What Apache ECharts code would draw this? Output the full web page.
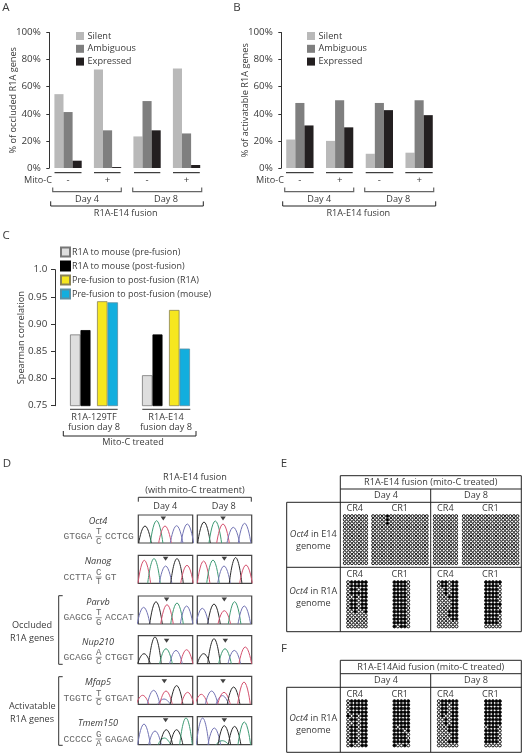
<!DOCTYPE html>
<html><head><meta charset="utf-8">
<style>html,body{margin:0;padding:0;background:#fff}#c{width:525px;height:756px}</style>
<script src="https://cdn.jsdelivr.net/npm/echarts@6/dist/echarts.min.js"></script>
</head><body><div id="c"></div>
<script>
// ---------- data ----------
const mitoCategories = ['-', '+', '-', '+'];
const stateNames = ['Silent', 'Ambiguous', 'Expressed'];
const occludedSilent = [54.5, 72.7, 23.3, 73.5];
const occludedAmbiguous = [41.3, 27.8, 49.4, 25.5];
const occludedExpressed = [5.4, 0.7, 27.8, 2.2];
const activatableSilent = [21, 20, 10.5, 11.3];
const activatableAmbiguous = [48, 50, 48, 50];
const activatableExpressed = [31.4, 30, 42.7, 39];
const corrCategories = ['R1A-129TF\nfusion day 8', 'R1A-E14\nfusion day 8'];
const corrNames = ['R1A to mouse (pre-fusion)', 'R1A to mouse (post-fusion)', 'Pre-fusion to post-fusion (R1A)', 'Pre-fusion to post-fusion (mouse)'];
const corrPreMouse = [0.881, 0.806];
const corrPostMouse = [0.889, 0.881];
const corrR1A = [0.942, 0.926];
const corrMouse = [0.940, 0.855];

const geneNames = ['Oct4', 'Nanog', 'Parvb', 'Nup210', 'Mfap5', 'Tmem150'];
const seqLeft = ['GTGGA', 'CCTTA', 'GAGCG', 'GCAGG', 'TGGTC', 'CCCCC'];
const seqTop = ['T', 'C', 'T', 'A', 'T', 'G'];
const seqBottom = ['C', 'T', 'G', 'C', 'C', 'A'];
const seqRight = ['CCTCG', 'GT', 'ACCAT', 'CTGGT', 'GTGAT', 'GAGAG'];
// peaks: base, position along trace, peak height
const oct4Day4 = [['G',6.7,17],['A',18.3,22.3],['T',26.7,17],['C',38.3,17.3],['C',49,19]];
const oct4Day8 = [['G',6.7,21],['A',18,22],['T',25.7,19],['C',36,15.7],['C',47.3,19.7]];
const nanogDay4 = [['T',6,23],['A',15.7,24.7],['C',27.3,17.3],['G',38.7,24.7],['T',48.7,18]];
const nanogDay8 = [['T',6.3,22.3],['A',15.7,23.3],['C',26.7,17.3],['G',38.3,25.7],['T',48.7,18.3]];
const parvbDay4 = [['C',5.3,16.7],['G',17.7,22.3],['T',28.7,19.3],['A',38.7,21],['C',48.3,18]];
const parvbDay8 = [['C',5,15.7],['G',16.7,20],['T',27,13.3],['A',37.3,22.3],['C',47,18]];
const nup210Day4 = [['G',5.7,10],['G',16.7,26.7],['A',27.7,15],['C',37.7,13.3],['T',48.3,14]];
const nup210Day8 = [['G',6.3,10],['G',16.7,25],['A',27.7,15],['C',37,13.3],['T',48,16.7]];
const mfap5Day4 = [['T',4.3,9],['C',15.3,14],['C',25.7,5.3],['T',27.7,13.3],['G',38.3,18.7],['T',49.3,12]];
const mfap5Day8 = [['T',4,10],['C',14.3,13.3],['C',25,8.7],['T',26.7,12],['G',36.3,17.3],['T',46.7,22.3]];
const tmem150Day4 = [['C',5.7,20.7],['C',16.7,13.7],['A',26,6.7],['G',28,15],['G',38.3,15],['A',47.7,26.7]];
const tmem150Day8 = [['C',5.3,26.7],['C',17,16.7],['A',25,4],['G',27,19],['G',37.3,18.3],['A',47,22.7]];
const arrowDay4 = [25, 27.3, 28.3, 28.3, 26, 27.3];
const arrowDay8 = [25.7, 27, 27, 28, 25.7, 27];

// methylation: 1 = methylated (filled), 0 = unmethylated (open)
const e14CR4Day4 = ['0000000','0000000','0000000','0000000','0000000','0000000','0000000','0000000','0000000','0000000','0000000','0000000','0000000','0000000'];
const e14CR1Day4 = ['0000100000000000','0000100000000000','0000100000000000','0000000000000000','0000000000000000','0000000000000000','0000000000000000','0000000000000000','0000000000000000','0000000000000000','0000000000000000','0000000000000000','0000000000000000','0000000000000000'];
const e14CR4Day8 = ['0000000','0000000','0000000','0000000','0000000','0000000','0000000','0000000','0000000','0000000','0000000','0000000','0000000','0000000'];
const e14CR1Day8 = ['0000000000000000','0000000000000000','0000000000000000','0000000000000000','0000000000000000','0000000000000000','0000000000000000','0000000000000000','0000000000000000','0000000000000000','0000000000000000','0000000000000000','0000000000000000','0000000000000000'];
const r1aCR4Day4 = ['011111','011111','011011','011111','001011','011011','011011','011011','001001','000000','000000','000000','000000'];
const r1aCR1Day4 = ['11110','11110','11110','11110','11110','11110','11110','11110','11110','11110','11110','11110','10110'];
const r1aCR4Day8 = ['011011','011011','001011','001011','000111','000011','000011','000011','000111','000111','000011','000000','000000'];
const r1aCR1Day8 = ['11111','11110','11110','11110','11110','11110','11111','11110','11111','11110','11110','11110','00000'];
const aidCR4Day4 = ['011111','011111','011111','011111','101011','011011','001011','011011','011011','011011','011011','011011','010011'];
const aidCR1Day4 = ['11111','11111','11111','11111','11111','11111','11111','10111','11101','11110','11110','11111','10010'];
const aidCR4Day8 = ['011111','011011','011011','011011','010011','001011','001011','000111','000111','000011','000011','000111','000000'];
const aidCR1Day8 = ['11111','11111','11111','11111','11111','11111','11111','01110','11110','11110','11110','11110','00000'];

// ---------- styles ----------
const FONT = '"Open Sans", sans-serif';
const TXT = '#3a3a3a';
const stateColors = ['#b9b9b9', '#7f7f7f', '#231f20'];
const baseColors = {G:'#2a2a2a', A:'#3e9a74', C:'#7374b4', T:'#d4526f'};

const grid = [], xAxis = [], yAxis = [], series = [], graphic = [];
let gi = 0;

function addBarPanel(left, top, w, h, yName, nameGap, off, vals) {
  const idx = gi++;
  grid.push({left, top, width: w, height: h});
  xAxis.push({gridIndex: idx, type: 'category', data: mitoCategories,
    axisLine: {show: false}, axisTick: {show: false},
    axisLabel: {color: TXT, fontSize: 9.6, fontFamily: FONT, margin: 7}});
  yAxis.push({gridIndex: idx, type: 'value', min: 0, max: 100, interval: 20, offset: off,
    name: yName, nameLocation: 'middle', nameGap, nameMoveOverlap: false, nameTextStyle: {color: TXT, fontSize: 9.2, fontFamily: FONT},
    axisLine: {show: true, lineStyle: {color: '#333', width: 1}},
    axisTick: {show: true, length: 3, lineStyle: {color: '#333'}},
    splitLine: {show: false},
    axisLabel: {color: TXT, fontSize: 9.8, fontFamily: FONT, margin: 8.5, formatter: v => v + '%'}});
  stateNames.forEach((n, i) => series.push({type: 'bar', name: n, data: vals[i], xAxisIndex: idx, yAxisIndex: idx,
    barWidth: 9.1, barGap: 0, itemStyle: {color: stateColors[i]}}));
}
addBarPanel(48.3, 32.5, 158, 135.5, '% of occluded R1A genes', 31, -1,
  [occludedSilent, occludedAmbiguous, occludedExpressed]);
addBarPanel(280, 32.5, 159, 135.5, '% of activatable R1A genes', 31, -1.3,
  [activatableSilent, activatableAmbiguous, activatableExpressed]);

// panel C
{
  const idx = gi++;
  grid.push({left: 58, top: 269.7, width: 144, height: 136});
  xAxis.push({gridIndex: idx, type: 'category', data: corrCategories,
    axisLine: {show: false}, axisTick: {show: false},
    axisLabel: {color: TXT, fontSize: 9.2, lineHeight: 10.4, fontFamily: FONT, margin: 6.5}});
  yAxis.push({gridIndex: idx, type: 'value', min: 0.75, max: 1.0, interval: 0.05, offset: 3,
    name: 'Spearman correlation', nameLocation: 'middle', nameGap: 29, nameMoveOverlap: false, nameTextStyle: {color: TXT, fontSize: 9.2, fontFamily: FONT},
    axisLine: {show: true, lineStyle: {color: '#333'}},
    axisTick: {show: true, length: 4, lineStyle: {color: '#333'}},
    splitLine: {show: false},
    axisLabel: {color: TXT, fontSize: 9.8, fontFamily: FONT, margin: 7.7,
      formatter: v => Math.abs(v - 1) < 1e-6 ? '1.0' : v.toFixed(2)}});
  const bs = [
    [corrNames[0], corrPreMouse, '#dedede', '#777', 10.5],
    [corrNames[1], corrPostMouse, '#000', '#000', 10],
    ['gap', [null, null], '#fff', '#fff', 6.5],
    [corrNames[2], corrR1A, '#f6e71f', '#8a8355', 10.5],
    [corrNames[3], corrMouse, '#12aede', '#5b8fa3', 10.5]
  ];
  bs.forEach(b => series.push({type: 'bar', name: b[0], data: b[1], xAxisIndex: idx, yAxisIndex: idx,
    barWidth: b[4], barGap: 0, itemStyle: {color: b[2], borderColor: b[3], borderWidth: 0.8}}));
}

// chromatograms
const traces = [oct4Day4, oct4Day8, nanogDay4, nanogDay8, parvbDay4, parvbDay8, nup210Day4, nup210Day8, mfap5Day4, mfap5Day8, tmem150Day4, tmem150Day8];
const traceTops = [515, 555.3, 596, 635.7, 676.3, 716.7];
const traceLefts = [138.3, 197.3];
const arrowYs = [24.5, 24.5, 24.5, 23, 23, 24.5];
traces.forEach((peaks, t) => {
  const row = Math.floor(t / 2), col = t % 2, idx = gi++;
  grid.push({left: traceLefts[col], top: traceTops[row], width: 54.4, height: 28,
    show: true, borderColor: '#444', borderWidth: 1.2, backgroundColor: 'transparent'});
  xAxis.push({gridIndex: idx, type: 'value', min: 0, max: 54.4, show: false});
  yAxis.push({gridIndex: idx, type: 'value', min: 0, max: 28, show: false});
  peaks.forEach(p => series.push({type: 'line', xAxisIndex: idx, yAxisIndex: idx, smooth: 0.55, showSymbol: false, symbol: 'none',
    data: [[p[1] - 6.3, 0], [p[1], p[2]], [p[1] + 6.3, 0]], lineStyle: {color: baseColors[p[0]], width: 1}, clip: true}));
  series.push({type: 'scatter', xAxisIndex: idx, yAxisIndex: idx, symbol: 'triangle', symbolRotate: 180, symbolSize: [5.5, 4],
    data: [[(col ? arrowDay8 : arrowDay4)[row], arrowYs[row]]], itemStyle: {color: '#111'}});
});

// methylation matrices
function addDots(pattern, left, top, w, h) {
  const idx = gi++;
  const rows = pattern.length, cols = pattern[0].length;
  grid.push({left, top, width: w, height: h});
  xAxis.push({gridIndex: idx, type: 'value', min: -0.5, max: cols - 0.5, show: false});
  yAxis.push({gridIndex: idx, type: 'value', min: -0.5, max: rows - 0.5, inverse: true, show: false});
  const open = [], filled = [];
  pattern.forEach((r, y) => [...r].forEach((c, x) => (c === '1' ? filled : open).push([x, y])));
  [[open, '#fff'], [filled, '#000']].forEach(([d, color]) => series.push({type: 'scatter', xAxisIndex: idx, yAxisIndex: idx,
    symbolSize: 2.9, data: d, itemStyle: {color, borderColor: '#111', borderWidth: 1, opacity: 1}}));
}
addDots(e14CR4Day4, 343, 514.3, 25, 50.7);
addDots(e14CR1Day4, 371.3, 514.3, 57.3, 50.7);
addDots(e14CR4Day8, 433, 514.3, 25, 50.7);
addDots(e14CR1Day8, 462, 514.3, 57.3, 50.7);
addDots(r1aCR4Day4, 346.3, 580.3, 21.3, 48);
addDots(r1aCR1Day4, 392.7, 580.3, 17.3, 48);
addDots(r1aCR4Day8, 437, 580.3, 21.3, 48);
addDots(r1aCR1Day8, 484.3, 580.3, 17.3, 48);
addDots(aidCR4Day4, 346.3, 699.3, 21.3, 48);
addDots(aidCR1Day4, 392.7, 699.3, 17.3, 48);
addDots(aidCR4Day8, 437, 699.3, 21.3, 48);
addDots(aidCR1Day8, 484.3, 699.3, 17.3, 48);

// ---------- annotation helpers ----------
function T(x, y, text, o) {
  o = o || {};
  const size = o.size || 9.15;
  graphic.push({type: 'text', silent: true, style: {x, y, text, fill: o.fill || TXT, textAlign: o.align || 'center', textVerticalAlign: 'middle',
    fontSize: size, fontFamily: o.font || FONT, fontStyle: o.italic ? 'italic' : 'normal',
    rich: {i: {fontStyle: 'italic', fontSize: size, fontFamily: o.font || FONT, fill: o.fill || TXT}, n: {fontSize: size, fontFamily: o.font || FONT, fill: o.fill || TXT}}}});
}
function L(pts, color, width) {
  graphic.push({type: 'polyline', silent: true, shape: {points: pts}, style: {stroke: color || '#222', lineWidth: width || 1, fill: null}});
}
function bracketUp(x0, x1, y0, y1, color, w) { L([[x0, y0], [x0, y1], [x1, y1], [x1, y0]], color, w); }

// panels A/B annotations
[[6, 'A', 24, 52, [[54.5,81.5],[94,120.5],[134,160.3],[173,199.8]], [[52.7,121.3],[132.7,201.7]], [50.7,203.3], [87,166], 125.7],
 [237, 'B', 256, 284, [[286,313.7],[326,352.7],[365.7,393.3],[405.3,432.7]], [[284.7,353.7],[364.7,433.7]], [282.7,435.7], [319.3,398.3], 358.3]]
.forEach(([lx, lab, , mitoR, under, days, outer, dayX, fusX]) => {
  T(lx, 8, lab, {size: 11.5});
  T(mitoR, 180, 'Mito-C', {align: 'right'});
  under.forEach(u => L([[u[0], 172.7], [u[1], 172.7]], '#111', 1));
  days.forEach(d => bracketUp(d[0], d[1], 187.5, 191.7, '#666', 1.2));
  bracketUp(outer[0], outer[1], 201.3, 206, '#222', 1);
  T(dayX[0], 199, 'Day 4');
  T(dayX[1], 199, 'Day 8');
  T(fusX, 213.5, 'R1A-E14 fusion');
});
// panel C annotations
T(6, 236, 'C', {size: 11.5});
L([[70, 409.3], [117.7, 409.3]], '#333', 1);
L([[142.3, 409.3], [190.3, 409.3]], '#333', 1);
bracketUp(63.3, 196, 431, 436, '#222', 1);
T(133, 442.7, 'Mito-C treated');

// panel D annotations
T(7, 463.7, 'D', {size: 11.5});
T(195, 477.7, 'R1A-E14 fusion');
T(195, 490, '(with mito-C treatment)');
L([[138.3, 501.7], [138.3, 497.3], [251.3, 497.3], [251.3, 501.7]], '#333', 1);
T(165.3, 506.7, 'Day 4');
T(223.7, 506.7, 'Day 8');
const labelYs = [521.7, 561.7, 602.7, 642.3, 682.7, 723.7];
const seqYs = [536.7, 577, 617.7, 657.3, 698.3, 739];
const MONO = '"Liberation Mono", monospace';
geneNames.forEach((g, i) => {
  T(98, labelYs[i], g, {italic: true});
  const y = seqYs[i];
  T(92.3, y, seqLeft[i], {align: 'right', font: MONO, fill: '#666', size: 9.6});
  T(105, y, seqRight[i], {align: 'left', font: MONO, fill: '#666', size: 9.6});
  T(98.7, y - 4.7, seqTop[i], {font: MONO, fill: '#666', size: 9});
  T(98.7, y + 4.7, seqBottom[i], {font: MONO, fill: '#666', size: 9});
  L([[95.7, y], [101.7, y]], '#777', 0.8);
});
L([[62.7, 595.7], [58.7, 595.7], [58.7, 664.3], [62.7, 664.3]], '#333', 1);
L([[62.7, 676.7], [58.7, 676.7], [58.7, 745.3], [62.7, 745.3]], '#333', 1);
T(32, 625.7, 'Occluded');
T(32, 638, 'R1A genes');
T(32.3, 706.7, 'Activatable');
T(32, 719, 'R1A genes');

// panel E frame
T(284, 463.7, 'E', {size: 11.5});
const TC = '#222';
L([[340.3, 475.7], [521.3, 475.7], [521.3, 631.7], [286.7, 631.7], [286.7, 502.3], [521.3, 502.3]], TC, 1);
L([[340.3, 475.7], [340.3, 631.7]], TC, 1);
L([[340.3, 489], [521.3, 489]], TC, 1);
L([[430.7, 489], [430.7, 631.7]], TC, 1);
L([[286.7, 567.3], [521.3, 567.3]], TC, 1);
T(430.7, 482.7, 'R1A-E14 fusion (mito-C treated)');
T(386, 495.7, 'Day 4');
T(476, 495.7, 'Day 8');
const crX = [354.7, 399.7, 445.3, 490.3], crNames = ['CR4', 'CR1', 'CR4', 'CR1'];
crX.forEach((x, i) => { T(x, 508.7, crNames[i]); T(x, 574.3, crNames[i]); T(x, 694, crNames[i]); });
T(313.3, 534, '{i|Oct4}{n| in E14}');
T(313.3, 546.7, 'genome');
T(313.3, 591.3, '{i|Oct4}{n| in R1A}');
T(313.3, 603.7, 'genome');

// panel F frame
T(284, 648.3, 'F', {size: 11.5});
L([[340.3, 660.3], [521.3, 660.3], [521.3, 752.3], [286.7, 752.3], [286.7, 687.3], [521.3, 687.3]], TC, 1);
L([[340.3, 660.3], [340.3, 752.3]], TC, 1);
L([[340.3, 673.7], [521.3, 673.7]], TC, 1);
L([[430.7, 673.7], [430.7, 752.3]], TC, 1);
T(430.7, 667.3, 'R1A-E14Aid fusion (mito-C treated)');
T(386, 680, 'Day 4');
T(476, 680, 'Day 8');
T(313.3, 718.3, '{i|Oct4}{n| in R1A}');
T(313.3, 730.7, 'genome');

const legendBase = {orient: 'vertical', icon: 'rect', selectedMode: false, itemWidth: 8, itemHeight: 8, itemGap: 3.8,
  padding: 0, textStyle: {color: TXT, fontSize: 9.2, fontFamily: FONT, padding: [0, 0, 0, -1.5]}};
const chart = echarts.init(document.getElementById('c'), null, {renderer: 'canvas'});
chart.setOption({
  animation: false, backgroundColor: '#fff',
  grid, xAxis, yAxis, series, graphic,
  legend: [
    Object.assign({}, legendBase, {left: 76, top: 31.5, data: stateNames}),
    Object.assign({}, legendBase, {left: 307, top: 31.5, data: stateNames}),
    Object.assign({}, legendBase, {left: 60, top: 246.5, itemWidth: 9, itemHeight: 9, itemGap: 3, data: corrNames,
      textStyle: {color: TXT, fontSize: 8.95, fontFamily: FONT, padding: [0, 0, 0, -3]}})
  ]
});
</script></body></html>
